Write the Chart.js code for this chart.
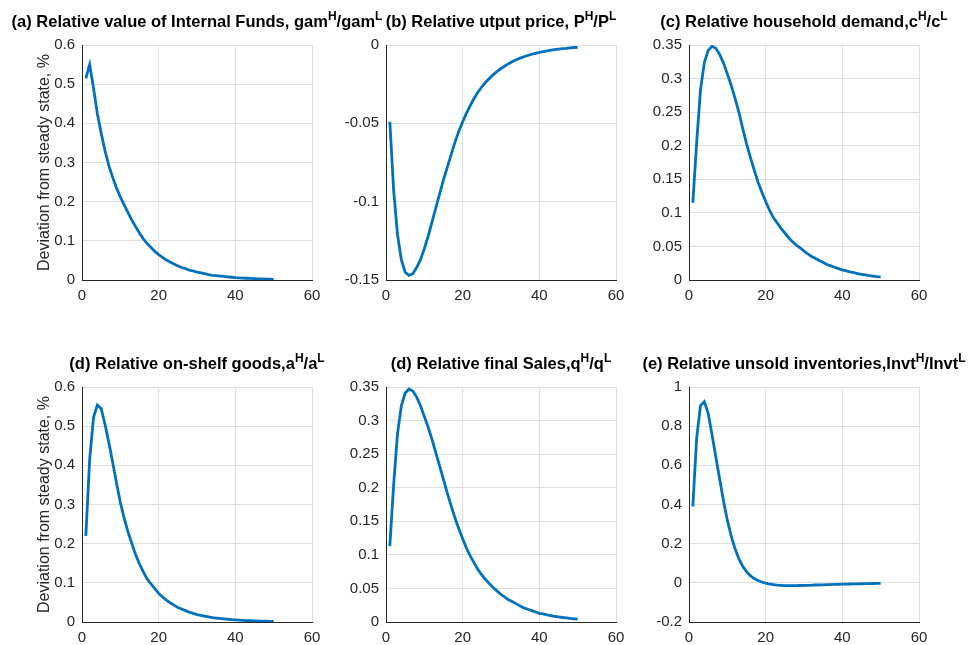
<!DOCTYPE html>
<html>
<head>
<meta charset="utf-8">
<script src="https://cdn.jsdelivr.net/npm/chart.js@4.4.1/dist/chart.umd.min.js"></script>
<style>
  html, body { margin: 0; padding: 0; background: #fff; }
  #figure { position: relative; width: 970px; height: 645px; overflow: hidden; font-family: "Liberation Sans", Arial, sans-serif; }
  .panel { position: absolute; }
  .title { position: absolute; white-space: nowrap; font-weight: bold; font-size: 16.5px; line-height: 16.5px; color: #000; transform: translateX(-50%); }
  .title sup { font-size: 12px; position: relative; top: -7px; vertical-align: baseline; line-height: 0; }
</style>
</head>
<body>
<div id="figure"></div>
<script>
// periods 1..50 on the x axis
const periods = Array.from({ length: 50 }, (_, i) => i + 1)
const xTicks = [0, 20, 40, 60]

const yTicksShare = [0, 0.1, 0.2, 0.3, 0.4, 0.5, 0.6]
const yTicksPrice = [-0.15, -0.1, -0.05, 0]
const yTicksDemand = [0, 0.05, 0.1, 0.15, 0.2, 0.25, 0.3, 0.35]
const yTicksInvt = [-0.2, 0, 0.2, 0.4, 0.6, 0.8, 1]

const panelTitles = [
    '(a) Relative value of Internal Funds, gam<sup>H</sup>/gam<sup>L</sup>',
    '(b) Relative utput price, P<sup>H</sup>/P<sup>L</sup>',
    '(c) Relative household demand,c<sup>H</sup>/c<sup>L</sup>',
    '(d) Relative on-shelf goods,a<sup>H</sup>/a<sup>L</sup>',
    '(d) Relative final Sales,q<sup>H</sup>/q<sup>L</sup>',
    '(e) Relative unsold inventories,Invt<sup>H</sup>/Invt<sup>L</sup>',
]
const yAxisLabel = 'Deviation from steady state, %'

const internalFunds = [
    0.515, 0.550, 0.490, 0.425, 0.375, 0.330, 0.292, 0.262, 0.235, 0.212,
    0.192, 0.172, 0.153, 0.136, 0.120, 0.105, 0.093, 0.083, 0.073, 0.065,
    0.058, 0.051, 0.046, 0.041, 0.036, 0.032, 0.029, 0.025, 0.023, 0.020,
    0.018, 0.016, 0.014, 0.012, 0.011, 0.010, 0.009, 0.008, 0.007, 0.006,
    0.0055, 0.005, 0.0045, 0.004, 0.0035, 0.003, 0.0027, 0.0024, 0.0021, 0.0018,
]
const outputPrice = [
    -0.049, -0.093, -0.121, -0.137, -0.145, -0.147, -0.146, -0.142, -0.137, -0.130,
    -0.122, -0.113, -0.104, -0.095, -0.086, -0.078, -0.070, -0.062, -0.055, -0.049,
    -0.0435, -0.0385, -0.034, -0.030, -0.0268, -0.0238, -0.0212, -0.0189, -0.0168, -0.015,
    -0.0134, -0.0119, -0.0106, -0.0094, -0.0084, -0.0075, -0.0067, -0.0059, -0.0053, -0.0047,
    -0.0042, -0.0037, -0.0033, -0.0029, -0.0026, -0.0023, -0.0021, -0.0018, -0.0016, -0.0015,
]
const householdDemand = [
    0.115, 0.205, 0.283, 0.324, 0.342, 0.348, 0.345, 0.336, 0.323, 0.307,
    0.290, 0.271, 0.250, 0.226, 0.203, 0.183, 0.164, 0.146, 0.131, 0.117,
    0.104, 0.093, 0.085, 0.077, 0.070, 0.063, 0.057, 0.052, 0.048, 0.043,
    0.039, 0.035, 0.032, 0.029, 0.026, 0.023, 0.021, 0.019, 0.017, 0.015,
    0.0135, 0.012, 0.011, 0.0095, 0.0085, 0.0075, 0.0065, 0.0058, 0.005, 0.0045,
]
const onShelfGoods = [
    0.220, 0.415, 0.522, 0.554, 0.545, 0.505, 0.458, 0.408, 0.355, 0.305,
    0.265, 0.230, 0.200, 0.172, 0.148, 0.128, 0.110, 0.097, 0.085, 0.073,
    0.064, 0.056, 0.049, 0.043, 0.037, 0.033, 0.029, 0.025, 0.022, 0.019,
    0.017, 0.015, 0.013, 0.011, 0.010, 0.009, 0.008, 0.007, 0.0062, 0.0055,
    0.0048, 0.0042, 0.0037, 0.0033, 0.0029, 0.0025, 0.0022, 0.0019, 0.0017, 0.0015,
]
const finalSales = [
    0.113, 0.205, 0.280, 0.322, 0.341, 0.347, 0.344, 0.335, 0.322, 0.306,
    0.290, 0.272, 0.252, 0.232, 0.212, 0.192, 0.173, 0.155, 0.139, 0.124,
    0.110, 0.098, 0.088, 0.078, 0.070, 0.063, 0.057, 0.051, 0.046, 0.041,
    0.037, 0.033, 0.030, 0.027, 0.024, 0.021, 0.019, 0.017, 0.015, 0.013,
    0.012, 0.0105, 0.0094, 0.0084, 0.0075, 0.0067, 0.006, 0.0053, 0.0047, 0.0042,
]
const unsoldInventories = [
    0.390, 0.740, 0.905, 0.925, 0.865, 0.757, 0.643, 0.530, 0.418, 0.320,
    0.240, 0.175, 0.123, 0.085, 0.057, 0.037, 0.022, 0.012, 0.004, -0.002,
    -0.006, -0.009, -0.012, -0.013, -0.014, -0.0145, -0.0145, -0.014, -0.0135, -0.013,
    -0.0125, -0.012, -0.011, -0.0105, -0.010, -0.0093, -0.0087, -0.008, -0.0075, -0.007,
    -0.0065, -0.006, -0.0055, -0.005, -0.0046, -0.0042, -0.0038, -0.0034, -0.0031, -0.0028,
]

// layout of the 2x3 grid (plot-area edges in page pixels)
const COLS = [82, 386, 689]
const ROWS = [35, 377]
const PLOT_W = 230
const PLOT_H = 245
const Y_AXIS_W = 82
const X_AXIS_H = 35
const PAD_TOP = 6
const PAD_RIGHT = 20

const FONT = '"Liberation Sans", Arial, Helvetica, sans-serif'
const LINE_BLUE = '#0072BD'
const AXIS_GRAY = '#262626'
const GRID_GRAY = '#dfdfdf'

const panels = [
    { data: internalFunds, yTicks: yTicksShare, col: 0, row: 0 },
    { data: outputPrice, yTicks: yTicksPrice, col: 1, row: 0 },
    { data: householdDemand, yTicks: yTicksDemand, col: 2, row: 0 },
    { data: onShelfGoods, yTicks: yTicksShare, col: 0, row: 1 },
    { data: finalSales, yTicks: yTicksDemand, col: 1, row: 1 },
    { data: unsoldInventories, yTicks: yTicksInvt, col: 2, row: 1 },
]

const figure = document.getElementById('figure')

panels.forEach((p, i) => {
    const left = COLS[p.col] - Y_AXIS_W
    const top = ROWS[p.row] - PAD_TOP
    const w = Y_AXIS_W + PLOT_W + PAD_RIGHT
    const h = PAD_TOP + PLOT_H + X_AXIS_H

    const wrap = document.createElement('div')
    wrap.className = 'panel'
    wrap.style.left = left + 'px'
    wrap.style.top = top + 'px'
    wrap.style.width = w + 'px'
    wrap.style.height = h + 'px'
    const canvas = document.createElement('canvas')
    canvas.width = w
    canvas.height = h
    wrap.appendChild(canvas)
    figure.appendChild(wrap)

    const title = document.createElement('div')
    title.className = 'title'
    title.innerHTML = panelTitles[i]
    title.style.left = (COLS[p.col] + PLOT_W / 2) + 'px'
    title.style.top = (ROWS[p.row] - 22) + 'px'
    figure.appendChild(title)

    const tickFont = { family: FONT, size: 15 }
    new Chart(canvas, {
        type: 'line',
        data: {
            datasets: [{
                data: periods.map((t, k) => ({ x: t, y: p.data[k] })),
                borderColor: LINE_BLUE,
                borderWidth: 2.8,
                pointRadius: 0,
                tension: 0,
                fill: false,
            }]
        },
        options: {
            responsive: false,
            animation: false,
            events: [],
            layout: { padding: { top: PAD_TOP, right: PAD_RIGHT, left: 0, bottom: 0 } },
            plugins: { legend: { display: false }, tooltip: { enabled: false } },
            scales: {
                x: {
                    type: 'linear',
                    min: xTicks[0],
                    max: xTicks[xTicks.length - 1],
                    afterBuildTicks: (scale) => { scale.ticks = xTicks.map(v => ({ value: v })) },
                    afterFit: (scale) => { scale.height = X_AXIS_H },
                    ticks: { color: AXIS_GRAY, font: tickFont, padding: 7, maxRotation: 0, callback: (v) => String(v) },
                    grid: { color: GRID_GRAY, drawTicks: false },
                    border: { color: AXIS_GRAY, width: 1 },
                },
                y: {
                    type: 'linear',
                    min: p.yTicks[0],
                    max: p.yTicks[p.yTicks.length - 1],
                    afterBuildTicks: (scale) => { scale.ticks = p.yTicks.map(v => ({ value: v })) },
                    afterFit: (scale) => { scale.width = Y_AXIS_W },
                    ticks: { color: AXIS_GRAY, font: tickFont, padding: 7, callback: (v) => String(v) },
                    grid: { color: GRID_GRAY, drawTicks: false },
                    border: { color: AXIS_GRAY, width: 1 },
                    title: {
                        display: p.col === 0,
                        text: yAxisLabel,
                        color: AXIS_GRAY,
                        font: { family: FONT, size: 16 },
                        padding: { top: 35, bottom: 0 },
                    },
                },
            },
        },
    })
})
</script>
</body>
</html>
